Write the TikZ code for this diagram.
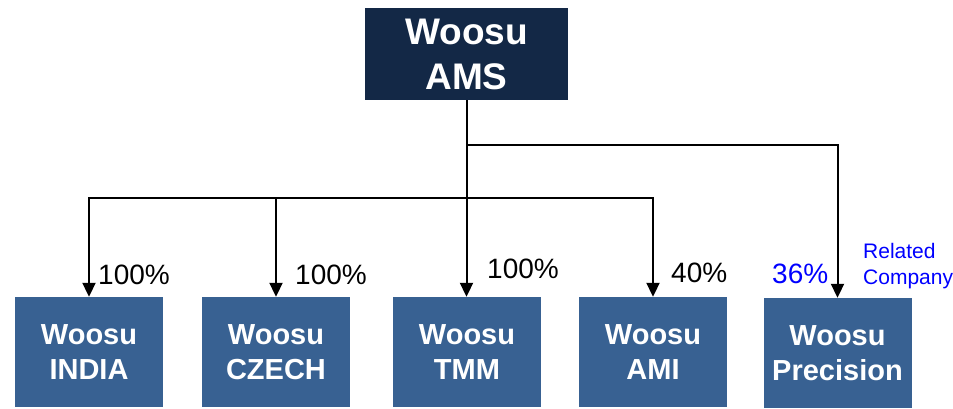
\documentclass[tikz,border=0pt]{standalone}
\usepackage{fontspec}
\setmainfont{Liberation Sans}
\usetikzlibrary{arrows.meta}
\definecolor{topnavy}{HTML}{132846}
\definecolor{subblue}{HTML}{386192}
\definecolor{relblue}{HTML}{0000FF}
\begin{document}
\begin{tikzpicture}[x=1pt,y=-1pt,
  topbox/.style={fill=topnavy,draw=none,minimum width=203pt,minimum height=92pt,inner sep=0pt,text=white,font=\fontsize{37}{45}\selectfont\bfseries,align=center},
  subbox/.style={fill=subblue,draw=none,minimum width=148pt,minimum height=110pt,inner sep=0pt,text=white,font=\fontsize{29}{35}\selectfont\bfseries,align=center},
  pct/.style={anchor=base west,inner sep=0pt,font=\fontsize{28}{30}\selectfont},
  conn/.style={line width=2pt},
  arr/.style={conn,-{Triangle[length=14pt,width=13pt]}}]
\useasboundingbox (0,0) rectangle (953,409);
\node[topbox] (ams) at (466.5,54) {Woosu\\AMS};
\node[subbox] (india) at (89,352) {Woosu\\INDIA};
\node[subbox] (czech) at (276,352) {Woosu\\CZECH};
\node[subbox] (tmm) at (467,352) {Woosu\\TMM};
\node[subbox] (ami) at (653,352) {Woosu\\AMI};
\node[subbox] (prec) at (837.5,353) {Woosu\\Precision};
\coordinate (b1) at (ams.south |- 0,145);
\coordinate (b2) at (ams.south |- 0,198);
\draw[arr] (ams.south) -- (ams.south |- tmm.north);
\draw[arr] (b1) -| (prec.north);
\draw[arr] (b2) -| (india.north);
\draw[arr] (b2) -| (czech.north);
\draw[arr] (b2) -| (ami.north);
\node[pct] (p1) at (98,284) {100\%};
\node[pct] (p2) at (295,284) {100\%};
\node[pct] (p3) at (487,278) {100\%};
\node[pct] (p4) at (671,282) {40\%};
\node[pct,text=relblue] (p5) at (772,283) {36\%};
\node[anchor=base west,inner sep=0pt,text=relblue,align=left,font=\fontsize{21}{26}\selectfont] (rel) at (863,284) {Related\\Company};
\end{tikzpicture}
\end{document}
